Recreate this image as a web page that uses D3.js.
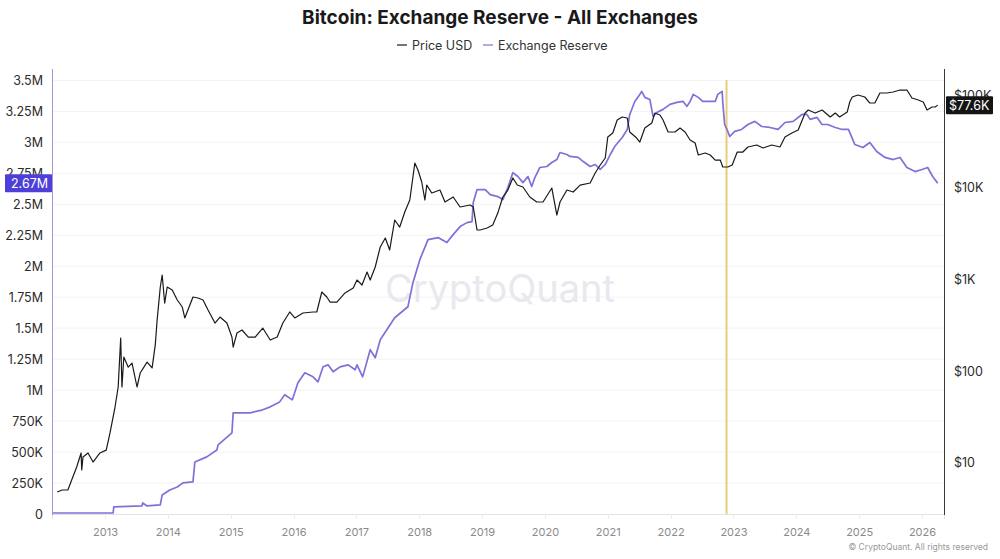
<!DOCTYPE html>
<html lang="en">
<head>
    <meta charset="UTF-8">
    <title>Bitcoin: Exchange Reserve - All Exchanges</title>
    <script src="https://d3js.org/d3.v7.min.js"></script>
    <style>
        body { margin: 0; background: #fff; font-family: Inter, "Noto Sans", sans-serif; }
        .axis path, .axis line { shape-rendering: crispEdges; }
    </style>
</head>
<body>
<div id="chart"></div>
<script>
    // Price USD (decimal year, value)
    const priceYears = [2012.24, 2012.32, 2012.41, 2012.47, 2012.55, 2012.62, 2012.63, 2012.65, 2012.73, 2012.81,
        2012.92, 2013.02, 2013.08, 2013.16, 2013.21, 2013.25, 2013.27, 2013.30, 2013.37, 2013.43,
        2013.51, 2013.56, 2013.67, 2013.75, 2013.80, 2013.83, 2013.88, 2013.91, 2013.95, 2013.99,
        2014.07, 2014.15, 2014.23, 2014.27, 2014.32, 2014.40, 2014.48, 2014.56, 2014.64, 2014.75,
        2014.83, 2014.94, 2015.02, 2015.04, 2015.10, 2015.18, 2015.28, 2015.39, 2015.51, 2015.63,
        2015.74, 2015.83, 2015.94, 2016.02, 2016.15, 2016.31, 2016.37, 2016.45, 2016.53, 2016.58,
        2016.69, 2016.82, 2016.95, 2017.01, 2017.09, 2017.17, 2017.22, 2017.30, 2017.38, 2017.46,
        2017.53, 2017.61, 2017.69, 2017.77, 2017.85, 2017.90, 2017.93, 2017.98, 2018.04, 2018.09,
        2018.12, 2018.20, 2018.33, 2018.41, 2018.54, 2018.65, 2018.81, 2018.86, 2018.92, 2018.97,
        2019.08, 2019.17, 2019.25, 2019.33, 2019.41, 2019.49, 2019.56, 2019.65, 2019.76, 2019.87,
        2019.97, 2020.11, 2020.19, 2020.24, 2020.35, 2020.45, 2020.56, 2020.72, 2020.80, 2020.88,
        2020.96, 2021.00, 2021.08, 2021.15, 2021.23, 2021.31, 2021.35, 2021.46, 2021.51, 2021.59,
        2021.70, 2021.75, 2021.83, 2021.88, 2021.96, 2022.07, 2022.15, 2022.23, 2022.31, 2022.39,
        2022.44, 2022.55, 2022.63, 2022.71, 2022.79, 2022.83, 2022.91, 2022.98, 2023.06, 2023.15,
        2023.23, 2023.37, 2023.47, 2023.61, 2023.74, 2023.82, 2023.93, 2024.03, 2024.14, 2024.19,
        2024.30, 2024.41, 2024.54, 2024.62, 2024.69, 2024.81, 2024.85, 2024.89, 2024.98, 2025.09,
        2025.17, 2025.25, 2025.33, 2025.44, 2025.54, 2025.65, 2025.76, 2025.84, 2025.94, 2026.02,
        2026.08, 2026.16, 2026.21, 2026.25];
    const priceValues = [4.84, 5.09, 5.09, 6.53, 9.05, 12.85, 8.39, 11.6, 12.85, 10.25,
        12.85, 13.8, 21.2, 40.6, 67, 228, 67, 142, 110, 122,
        67, 95, 125, 108, 192, 358, 819, 1105, 548, 819,
        759, 591, 496, 377, 460, 637, 622, 591, 460, 332,
        386, 332, 234, 182, 259, 279, 234, 234, 293, 217,
        234, 332, 438, 377, 427, 438, 438, 722, 637, 562,
        562, 705, 798, 975, 860, 1190, 975, 1350, 2230, 2790,
        2070, 4380, 3670, 5350, 7220, 12850, 18240, 15300, 11330, 7220,
        10500, 8600, 9270, 6870, 7790, 6060, 6370, 6060, 3410, 3410,
        3580, 3860, 5210, 7790, 9270, 12530, 10500, 10000, 7790, 6870,
        6870, 9750, 4960, 6870, 9270, 8820, 10500, 11050, 14200, 17340,
        20660, 34950, 38640, 53490, 57680, 56230, 39630, 34080, 30830, 43750,
        49630, 63700, 60610, 53490, 39630, 39630, 43750, 39630, 32430, 30080,
        22280, 23420, 22280, 19630, 19630, 16500, 16500, 17340, 24000, 24000,
        27210, 28600, 26540, 28600, 27210, 34950, 38640, 41650, 63700, 68690,
        63700, 68690, 57680, 63700, 57680, 65300, 83950, 95120, 100000, 95120,
        81850, 81850, 105100, 105100, 107800, 113250, 113250, 92700, 88230, 83950,
        68690, 74060, 74060, 77600];

    // Exchange Reserve, BTC (decimal year, value)
    const reserveYears = [2012.17, 2012.92, 2013.13, 2013.14, 2013.59, 2013.60, 2013.67, 2013.88, 2013.91, 2014.03,
        2014.15, 2014.24, 2014.40, 2014.43, 2014.62, 2014.78, 2014.80, 2015.02, 2015.04, 2015.31,
        2015.51, 2015.63, 2015.78, 2015.86, 2015.98, 2016.07, 2016.18, 2016.31, 2016.39, 2016.47,
        2016.55, 2016.63, 2016.74, 2016.87, 2016.98, 2017.01, 2017.10, 2017.22, 2017.30, 2017.38,
        2017.61, 2017.82, 2017.90, 2018.01, 2018.14, 2018.30, 2018.44, 2018.54, 2018.65, 2018.76,
        2018.84, 2018.86, 2018.92, 2019.05, 2019.13, 2019.25, 2019.33, 2019.41, 2019.49, 2019.57,
        2019.65, 2019.73, 2019.79, 2019.84, 2019.92, 2020.03, 2020.11, 2020.19, 2020.24, 2020.35,
        2020.40, 2020.53, 2020.61, 2020.72, 2020.80, 2020.88, 2020.96, 2021.04, 2021.11, 2021.23,
        2021.31, 2021.35, 2021.43, 2021.51, 2021.54, 2021.59, 2021.67, 2021.72, 2021.78, 2021.88,
        2021.99, 2022.10, 2022.20, 2022.26, 2022.31, 2022.36, 2022.44, 2022.51, 2022.63, 2022.71,
        2022.75, 2022.82, 2022.83, 2022.86, 2022.91, 2022.94, 2023.02, 2023.13, 2023.23, 2023.34,
        2023.45, 2023.58, 2023.71, 2023.82, 2023.95, 2024.09, 2024.17, 2024.22, 2024.33, 2024.41,
        2024.50, 2024.62, 2024.73, 2024.83, 2024.93, 2025.06, 2025.17, 2025.28, 2025.41, 2025.54,
        2025.65, 2025.76, 2025.89, 2026.00, 2026.09, 2026.17, 2026.25];
    const reserveValues = [8000, 8000, 8000, 57000, 65000, 89000, 65000, 73000, 154000, 194000,
        218000, 251000, 259000, 420000, 461000, 517000, 558000, 655000, 816000, 816000,
        841000, 865000, 905000, 962000, 921000, 1059000, 1140000, 1107000, 1067000, 1188000,
        1204000, 1148000, 1188000, 1204000, 1164000, 1204000, 1107000, 1326000, 1261000, 1406000,
        1584000, 1673000, 1867000, 2053000, 2215000, 2231000, 2191000, 2255000, 2320000, 2352000,
        2360000, 2514000, 2619000, 2619000, 2578000, 2562000, 2538000, 2635000, 2756000, 2724000,
        2675000, 2724000, 2643000, 2716000, 2797000, 2805000, 2837000, 2861000, 2918000, 2902000,
        2886000, 2878000, 2845000, 2805000, 2821000, 2781000, 2821000, 2902000, 2966000, 3039000,
        3104000, 3225000, 3330000, 3387000, 3411000, 3363000, 3346000, 3209000, 3241000, 3266000,
        3306000, 3322000, 3330000, 3290000, 3330000, 3387000, 3363000, 3330000, 3330000, 3330000,
        3387000, 3411000, 3322000, 3144000, 3088000, 3047000, 3088000, 3104000, 3144000, 3169000,
        3128000, 3120000, 3104000, 3160000, 3169000, 3225000, 3225000, 3185000, 3201000, 3144000,
        3144000, 3120000, 3104000, 3104000, 2983000, 2958000, 2999000, 2926000, 2878000, 2861000,
        2878000, 2797000, 2764000, 2781000, 2797000, 2724000, 2670000];

    const leftTicks = [0, 250000, 500000, 750000, 1000000, 1250000, 1500000, 1750000,
        2000000, 2250000, 2500000, 2750000, 3000000, 3250000, 3500000];
    const rightTicks = [10, 100, 1000, 10000, 100000];
    const rightTickLabels = ["$10", "$100", "$1K", "$10K", "$100K"];
    const yearTicks = [2013, 2014, 2015, 2016, 2017, 2018, 2019, 2020, 2021, 2022, 2023, 2024, 2025, 2026];
    const markerYear = 2022.89;
    const lastPriceLabel = "$77.6K";
    const lastReserveLabel = "2.67M";

    const width = 1000, height = 559;
    const plot = { left: 52, right: 944, top: 68, bottom: 514 };
    const priceColor = "#1a1a1a";
    const reserveColor = "#7e72d8";

    const svg = d3.select("#chart").append("svg")
        .attr("width", width)
        .attr("height", height);

    // scales
    const x = d3.scaleLinear()
        .domain([2012.157, 2026.35])
        .range([plot.left, plot.right]);

    const yLeft = d3.scaleLinear()
        .domain([0, 3600000])
        .range([plot.bottom, plot.top]);

    const yRight = d3.scaleLog()
        .domain([2.79, 196600])
        .range([plot.bottom, plot.top]);

    function fmtLeft(v) {
        if (v === 0) return "0";
        if (v < 1000000) return (v / 1000) + "K";
        return (v / 1000000) + "M";
    }

    // grid lines
    svg.append("g")
        .selectAll("line")
        .data(leftTicks.slice(1))
        .enter()
        .append("line")
        .attr("x1", plot.left)
        .attr("x2", plot.right)
        .attr("y1", d => yLeft(d))
        .attr("y2", d => yLeft(d))
        .attr("stroke", "#f3f3f5")
        .attr("stroke-width", 1);

    // watermark
    svg.append("text")
        .attr("x", 500)
        .attr("y", 302)
        .attr("text-anchor", "middle")
        .style("font-size", "38px")
        .style("font-weight", 400)
        .style("fill", "#e8e8ee")
        .text("CryptoQuant");

    // x axis
    const xAxis = svg.append("g")
        .attr("class", "axis")
        .attr("transform", "translate(0," + plot.bottom + ")")
        .call(d3.axisBottom(x).tickValues(yearTicks).tickFormat(d3.format("d")).tickSize(5).tickPadding(9));
    xAxis.select(".domain").attr("stroke", "#e4e4e8");
    xAxis.selectAll(".tick line").attr("stroke", "#ececf0");
    xAxis.selectAll("text")
        .style("font-size", "11px")
        .style("font-family", "Inter, sans-serif")
        .style("fill", "#8a8a8a");

    // left axis
    const leftAxis = svg.append("g")
        .attr("class", "axis")
        .attr("transform", "translate(" + plot.left + ",0)")
        .call(d3.axisLeft(yLeft).tickValues(leftTicks).tickFormat(fmtLeft).tickSize(0).tickPadding(9));
    leftAxis.select(".domain").attr("stroke", "#9f97dc").attr("stroke-width", 1.5);
    leftAxis.selectAll("text")
        .style("font-size", "12.5px")
        .style("font-family", "Inter, sans-serif")
        .style("fill", "#2b2b2b");

    // right axis
    const rightAxis = svg.append("g")
        .attr("class", "axis")
        .attr("transform", "translate(" + plot.right + ",0)")
        .call(d3.axisRight(yRight).tickValues(rightTicks)
            .tickFormat((d, i) => rightTickLabels[i]).tickSize(0).tickPadding(10));
    rightAxis.select(".domain").attr("stroke", "#3a3a3a").attr("stroke-width", 1.5);
    rightAxis.selectAll("text")
        .style("font-size", "12.5px")
        .style("font-family", "Inter, sans-serif")
        .style("fill", "#2b2b2b");

    // marker line
    svg.append("line")
        .attr("x1", x(markerYear))
        .attr("x2", x(markerYear))
        .attr("y1", 80)
        .attr("y2", plot.bottom)
        .attr("stroke", "#ebcb7c")
        .attr("stroke-width", 2);

    // lines
    const priceData = priceYears.map((t, i) => ({ t: t, v: priceValues[i] }));
    const reserveData = reserveYears.map((t, i) => ({ t: t, v: reserveValues[i] }));

    const priceLine = d3.line()
        .x(d => x(d.t))
        .y(d => yRight(d.v));

    const reserveLine = d3.line()
        .x(d => x(d.t))
        .y(d => yLeft(d.v));

    svg.append("path")
        .datum(reserveData)
        .attr("d", reserveLine)
        .attr("fill", "none")
        .attr("stroke", reserveColor)
        .attr("stroke-width", 1.7)
        .attr("stroke-linejoin", "round");

    svg.append("path")
        .datum(priceData)
        .attr("d", priceLine)
        .attr("fill", "none")
        .attr("stroke", priceColor)
        .attr("stroke-width", 1.2)
        .attr("stroke-linejoin", "round");

    // last value labels (cover the tick label behind them, as in the source chart)
    const lastRes = reserveValues[reserveValues.length - 1];
    const lastPrice = priceValues[priceValues.length - 1];

    const resY = yLeft(lastRes);
    svg.append("rect")
        .attr("x", 5)
        .attr("y", resY - 9)
        .attr("width", plot.left - 5)
        .attr("height", 18)
        .attr("rx", 1)
        .attr("fill", "#4d3fd8");
    svg.append("text")
        .attr("x", plot.left - 4)
        .attr("y", resY + 4.5)
        .attr("text-anchor", "end")
        .style("font-size", "12.5px")
        .style("fill", "#fff")
        .text(lastReserveLabel);

    const prY = yRight(lastPrice);
    svg.append("rect")
        .attr("x", plot.right + 2)
        .attr("y", prY - 9)
        .attr("width", 47)
        .attr("height", 18)
        .attr("rx", 1)
        .attr("fill", "#141414");
    svg.append("text")
        .attr("x", plot.right + 5)
        .attr("y", prY + 4.5)
        .style("font-size", "12.5px")
        .style("fill", "#fff")
        .text(lastPriceLabel);

    // title
    svg.append("text")
        .attr("x", 500)
        .attr("y", 24)
        .attr("text-anchor", "middle")
        .style("font-size", "19px")
        .style("font-weight", 700)
        .style("fill", "#1a1a1a")
        .text("Bitcoin: Exchange Reserve - All Exchanges");

    // legend
    const legendItems = [
        { name: "Price USD", color: priceColor, x: 397 },
        { name: "Exchange Reserve", color: reserveColor, x: 483 }
    ];
    const legend = svg.append("g");
    legendItems.forEach(function(item) {
        legend.append("line")
            .attr("x1", item.x)
            .attr("x2", item.x + 10)
            .attr("y1", 45)
            .attr("y2", 45)
            .attr("stroke", item.color)
            .attr("stroke-width", 1.2);
        legend.append("text")
            .attr("x", item.x + 15)
            .attr("y", 49.5)
            .style("font-size", "12.5px")
            .style("fill", "#333")
            .text(item.name);
    });

    // copyright
    svg.append("text")
        .attr("x", 988)
        .attr("y", 550)
        .attr("text-anchor", "end")
        .style("font-size", "8.5px")
        .style("fill", "#999")
        .text("© CryptoQuant. All rights reserved");
</script>
</body>
</html>
